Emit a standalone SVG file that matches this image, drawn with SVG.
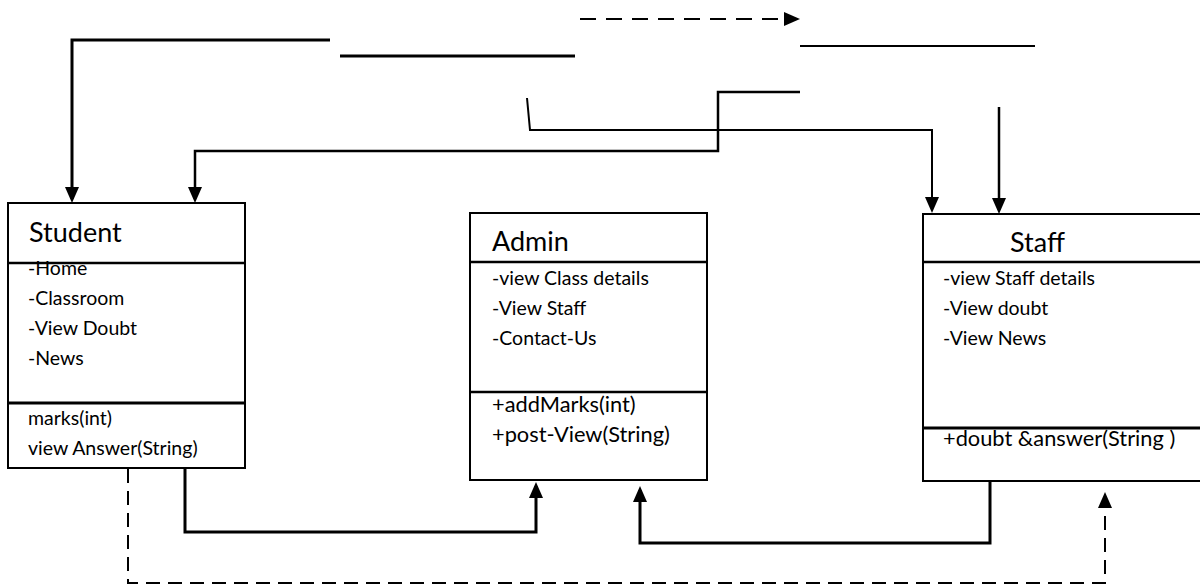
<svg xmlns="http://www.w3.org/2000/svg" width="1200" height="586" viewBox="0 0 1200 586">
<style>
.box{fill:#fff;stroke:#000;stroke-width:2}
.div{stroke:#000;stroke-width:2.5}
.title{font-family:Lato,"Liberation Sans",sans-serif;font-size:27px;fill:#000}
.attr{font-family:Lato,"Liberation Sans",sans-serif;font-size:19.5px;fill:#000}
.meth{font-family:Lato,"Liberation Sans",sans-serif;font-size:21.8px;fill:#000}
.ln{fill:none;stroke:#000;stroke-width:2.5}
.dash{fill:none;stroke:#000;stroke-width:2;stroke-dasharray:16 10}
</style>
<defs>
<marker id="arr" markerUnits="userSpaceOnUse" markerWidth="16" markerHeight="14" refX="12" refY="7" orient="auto">
<path d="M0,0 L16,7 L0,14 Z" fill="#000"/>
</marker>
</defs>
<rect width="1200" height="586" fill="#fff"/>
<g id="connectors">
<path class="ln" style="stroke-width:3" d="M330,40 H72 V199" marker-end="url(#arr)"/>
<path class="ln" style="stroke-width:3" d="M340,56 H575"/>
<path class="dash" d="M580,19 H796" marker-end="url(#arr)"/>
<path class="ln" style="stroke-width:2" d="M800,46 H1035"/>
<path class="ln" style="stroke-width:2" d="M527,98 L530,130 H932 V209" marker-end="url(#arr)"/>
<path class="ln" d="M800,92 H718 V151 H195 V199" marker-end="url(#arr)"/>
<path class="ln" d="M999,107 V210" marker-end="url(#arr)"/>
<path class="ln" style="stroke-width:3" d="M185,469 V532 H536 V486" marker-end="url(#arr)"/>
<path class="ln" style="stroke-width:3" d="M990,481 V543 H640 V490" marker-end="url(#arr)"/>
<path class="dash" style="stroke-dasharray:14 8" d="M128,469 V583 H1105 V496" marker-end="url(#arr)"/>
</g>
<g id="student">
<rect class="box" x="8" y="203" width="237" height="265"/>
<line class="div" x1="8" y1="263" x2="245" y2="263"/>
<line class="div" style="stroke-width:3" x1="8" y1="403" x2="245" y2="403"/>
<text class="title" x="29" y="242">Student</text>
<text class="attr" x="28" y="275">-Home</text>
<text class="attr" x="28" y="305">-Classroom</text>
<text class="attr" x="28" y="335">-View Doubt</text>
<text class="attr" x="28" y="365">-News</text>
<text class="attr" x="28" y="425">marks(int)</text>
<text class="attr" x="28" y="455">view Answer(String)</text>
</g>
<g id="admin">
<rect class="box" x="470" y="213" width="237" height="267"/>
<line class="div" x1="470" y1="262" x2="707" y2="262"/>
<line class="div" x1="470" y1="392" x2="707" y2="392"/>
<text class="title" x="492" y="251">Admin</text>
<text class="attr" x="492" y="285">-view Class details</text>
<text class="attr" x="492" y="315">-View Staff</text>
<text class="attr" x="492" y="345">-Contact-Us</text>
<text class="meth" x="492" y="412">+addMarks(int)</text>
<text class="meth" x="492" y="442">+post-View(String)</text>
</g>
<g id="staff">
<rect class="box" x="923" y="214" width="290" height="267"/>
<line class="div" x1="923" y1="262" x2="1213" y2="262"/>
<line class="div" style="stroke-width:3" x1="923" y1="428" x2="1213" y2="428"/>
<text class="title" x="1010" y="252">Staff</text>
<text class="attr" x="943" y="285">-view Staff details</text>
<text class="attr" x="943" y="315">-View doubt</text>
<text class="attr" x="943" y="345">-View News</text>
<text class="meth" x="943" y="446">+doubt &amp;answer(String )</text>
</g>
</svg>
